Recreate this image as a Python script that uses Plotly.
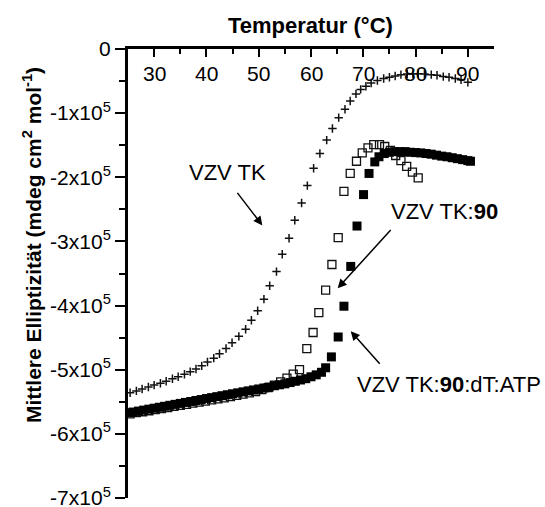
import plotly.graph_objects as go

# ---- data (values in units of 1e5 mdeg cm^2 mol^-1) ----
T_tk = [25.4, 26.6, 27.7, 28.9, 30.0, 31.2, 32.3, 33.5, 34.6, 35.8, 36.9, 38.0, 39.1, 40.2,
        41.4, 42.5, 43.75, 44.9, 46.2, 47.5, 48.6, 49.8, 51.0, 52.1, 53.4, 54.5, 55.8, 56.9,
        58.2, 59.3, 60.5, 61.7, 63.0, 64.1, 65.3, 66.5, 67.5, 68.6, 69.5, 70.5, 71.5, 72.7,
        73.9, 75.0, 76.1, 77.2, 78.4, 79.5, 80.5, 81.7, 83.0, 84.1, 85.3, 86.4, 87.6, 88.7, 90.0]
V_tk = [-5.36, -5.33, -5.30, -5.27, -5.24, -5.21, -5.18, -5.14, -5.11, -5.07, -5.03, -4.99, -4.94, -4.88,
        -4.82, -4.75, -4.67, -4.58, -4.48, -4.37, -4.23, -4.08, -3.90, -3.69, -3.47, -3.20, -2.95, -2.67,
        -2.40, -2.13, -1.86, -1.63, -1.42, -1.24, -1.07, -0.94, -0.81, -0.70, -0.63, -0.58, -0.53, -0.49,
        -0.46, -0.44, -0.42, -0.40, -0.39, -0.385, -0.385, -0.39, -0.40, -0.41, -0.43, -0.44, -0.46, -0.48, -0.52]

T_90 = [25.4, 26.6, 27.8, 29.0, 30.2, 31.4, 32.6, 33.8, 35.0, 36.2, 37.4, 38.6, 39.8, 41.0,
        42.2, 43.4, 44.6, 45.8, 47.0, 48.2, 49.4, 50.6, 51.8, 53.0, 54.2, 55.4, 56.6, 57.8,
        59.2, 60.4, 61.5, 62.8, 64.0, 65.2, 66.3, 67.5, 68.7, 69.8, 70.9, 72.0, 73.1, 74.1,
        75.2, 76.2, 77.2, 78.3, 79.4, 80.5]
V_90 = [-5.69, -5.67, -5.655, -5.64, -5.62, -5.605, -5.59, -5.57, -5.555, -5.54, -5.52, -5.505, -5.49, -5.47,
        -5.455, -5.44, -5.42, -5.40, -5.38, -5.36, -5.34, -5.31, -5.28, -5.24, -5.19, -5.13, -5.07, -5.00,
        -4.67, -4.42, -4.11, -3.76, -3.36, -2.94, -2.22, -1.94, -1.75, -1.62, -1.54, -1.49, -1.49, -1.52,
        -1.58, -1.66, -1.74, -1.83, -1.92, -2.01]

T_atp = [25.0, 26.0, 27.0, 28.0, 29.0, 30.0, 31.0, 32.0, 33.0, 34.0, 35.0, 36.0, 37.0, 38.0,
         39.0, 40.0, 41.0, 42.0, 43.0, 44.0, 45.0, 46.0, 47.0, 48.0, 49.0, 50.0, 51.0, 52.0,
         53.0, 54.0, 55.0, 56.0, 57.0, 58.0, 59.0, 60.0, 61.0, 62.0, 62.8, 63.9, 65.2, 66.3,
         67.6, 68.8, 70.05, 71.1, 72.2, 73.0, 74.0, 75.0, 76.0, 77.0, 78.0, 79.0, 80.0, 81.0,
         82.0, 83.0, 84.0, 85.0, 86.0, 87.0, 88.0, 89.0, 90.0, 90.5]
V_atp = [-5.67, -5.66, -5.645, -5.63, -5.615, -5.60, -5.585, -5.57, -5.555, -5.54, -5.525, -5.51, -5.495, -5.48,
         -5.465, -5.45, -5.435, -5.42, -5.405, -5.39, -5.375, -5.36, -5.345, -5.33, -5.315, -5.30, -5.285, -5.27,
         -5.25, -5.235, -5.22, -5.20, -5.18, -5.16, -5.14, -5.11, -5.08, -5.04, -4.97, -4.80, -4.49, -4.01,
         -3.39, -2.76, -2.27, -1.94, -1.76, -1.68, -1.63, -1.61, -1.60, -1.60, -1.60, -1.61, -1.615, -1.62,
         -1.63, -1.64, -1.655, -1.67, -1.68, -1.695, -1.71, -1.725, -1.74, -1.75]

SCALE = 1e5
x_ticks = [30, 40, 50, 60, 70, 80, 90]
y_ticks = [0, -1, -2, -3, -4, -5, -6, -7]
y_ticktext = ["0"] + [f"-{k}x10<sup>5</sup>" for k in range(1, 8)]

FONT = "Liberation Sans, Arial, sans-serif"
W, H = 545, 507
ML, MR, MT, MB = 128, 51, 49, 9
PW, PH = W - ML - MR, H - MT - MB

fig = go.Figure()
fig.add_trace(go.Scatter(x=T_tk, y=[v * SCALE for v in V_tk], mode="markers",
                         marker=dict(symbol="cross-thin-open", size=6, color="#111",
                                     line=dict(width=1.5, color="#111")),
                         showlegend=False))
fig.add_trace(go.Scatter(x=T_90, y=[v * SCALE for v in V_90], mode="markers",
                         marker=dict(symbol="square-open", size=8, color="#111",
                                     line=dict(width=1.3, color="#111")),
                         showlegend=False))
fig.add_trace(go.Scatter(x=T_atp, y=[v * SCALE for v in V_atp], mode="markers",
                         marker=dict(symbol="square", size=9, color="black",
                                     line=dict(width=0)),
                         showlegend=False))

fig.update_layout(
    width=W, height=H,
    margin=dict(l=ML, r=MR, t=MT, b=MB, autoexpand=False),
    plot_bgcolor="white", paper_bgcolor="white",
    font=dict(family=FONT, size=21, color="black"),
    xaxis=dict(side="top", range=[25, 95], tickvals=x_ticks, showticklabels=False,
               ticks="inside", ticklen=8, tickwidth=2, tickcolor="black",
               showline=True, linewidth=3, linecolor="black",
               showgrid=False, zeroline=False,
               minor=dict(dtick=5, tick0=25, ticks="inside", ticklen=5, tickwidth=2, tickcolor="black")),
    yaxis=dict(range=[-7 * SCALE, 0], tickvals=[t * SCALE for t in y_ticks], ticktext=y_ticktext,
               ticks="outside", ticklen=10, tickwidth=2, tickcolor="black",
               showline=True, linewidth=3, linecolor="black",
               showgrid=False, zeroline=False, ticklabeloverflow="allow",
               minor=dict(dtick=0.5 * SCALE, tick0=0, ticks="outside", ticklen=6, tickwidth=2, tickcolor="black"),
               tickfont=dict(size=21)),
)

# x tick labels drawn inside the plot, just below the top axis
for t in x_ticks:
    fig.add_annotation(text=str(t), x=t, xref="x", yref="paper", y=1 - (73.5 - MT) / PH,
                       showarrow=False, font=dict(size=21), xanchor="center", yanchor="middle")

# axis titles
fig.add_annotation(text="<b>Temperatur (°C)</b>", xref="paper", yref="paper",
                   x=(310 - ML) / PW, y=1 + (MT - 25) / PH, showarrow=False,
                   font=dict(size=22), xanchor="center", yanchor="middle")
fig.add_annotation(text="<b>Mittlere Elliptizität (mdeg cm<sup>2</sup> mol<sup>-1</sup>)</b>",
                   xref="paper", yref="paper", x=-(ML - 32) / PW, y=(H - MB - 245) / PH,
                   textangle=-90, showarrow=False, font=dict(size=21),
                   xanchor="center", yanchor="middle")

# series labels
fig.add_annotation(text="VZV TK", x=44.1, y=-1.93 * SCALE, showarrow=False, font=dict(size=22))
fig.add_annotation(text="VZV TK:<b>90</b>", x=85.5, y=-2.53 * SCALE, showarrow=False, font=dict(size=22))
fig.add_annotation(text="VZV TK:<b>90</b>:dT:ATP", xref="paper", x=(543 - ML) / PW, xanchor="right",
                   y=-5.23 * SCALE, showarrow=False, font=dict(size=22))

# arrows (head at x,y ; tail at ax,ay)
for hx, hy, tx, ty in [(50.7, -2.75, 45.7, -2.22), (65.1, -3.73, 75.5, -2.80), (67.6, -4.40, 73.4, -4.93)]:
    fig.add_annotation(text="", x=hx, y=hy * SCALE, ax=tx, ay=ty * SCALE, axref="x", ayref="y",
                       showarrow=True, arrowhead=2, arrowsize=1.2, arrowwidth=1.5, arrowcolor="black")

fig.write_html("out.html", config={"displayModeBar": False, "staticPlot": True},
               post_script="document.body.style.margin='0';")
